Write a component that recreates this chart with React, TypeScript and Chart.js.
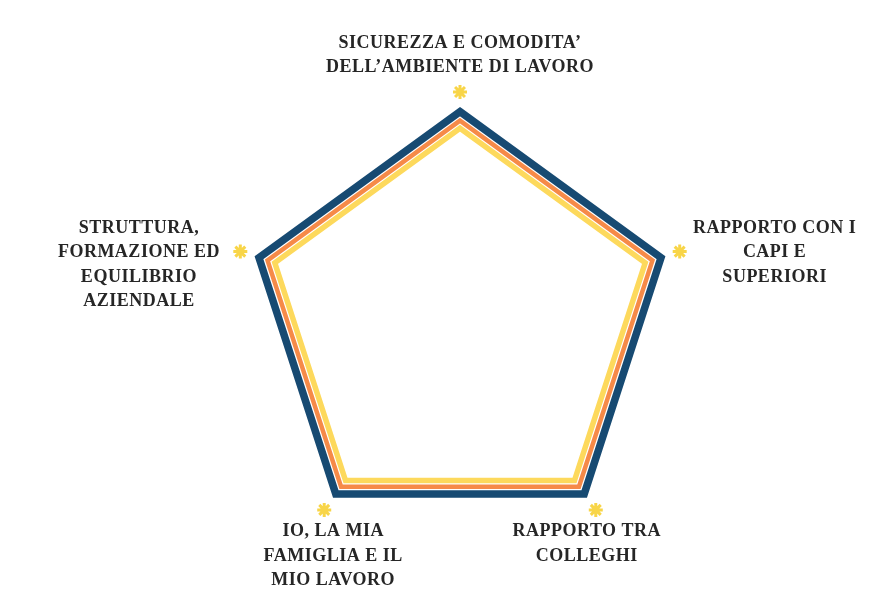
import { useEffect, useRef } from "react";
import { Chart, registerables } from "chart.js";
import type { Plugin } from "chart.js";

Chart.register(...registerables);

// Assi del radar (etichette su più righe)
const categories: string[][] = [
  ["SICUREZZA E COMODITA’", "DELL’AMBIENTE DI LAVORO"],
  ["RAPPORTO CON I", "CAPI E", "SUPERIORI"],
  ["RAPPORTO TRA", "COLLEGHI"],
  ["IO, LA MIA", "FAMIGLIA E IL", "MIO LAVORO"],
  ["STRUTTURA,", "FORMAZIONE ED", "EQUILIBRIO", "AZIENDALE"],
];

const blueValues = [9.15, 9.15, 9.15, 9.15, 9.15];
const orangeValues = [8.76, 8.76, 8.76, 8.76, 8.76];
const yellowValues = [8.43, 8.43, 8.43, 8.43, 8.43];
const starValues = [10, 10, 10, 10, 10];

const scaleMax = 10;

const LABEL_FONT = "bold 18px 'Liberation Serif', serif";
const LINE_HEIGHT = 24.5;

// disegna le etichette centrate riga per riga, attorno alle stelline
const labelPlugin: Plugin<"radar"> = {
  id: "centeredPointLabels",
  afterDraw(chart) {
    const scale: any = chart.scales.r;
    const ctx = chart.ctx;
    ctx.save();
    ctx.font = LABEL_FONT;
    (ctx as any).letterSpacing = "0.5px";
    ctx.fillStyle = "#262626";
    ctx.textAlign = "center";
    ctx.textBaseline = "middle";

    categories.forEach((lines, i) => {
      const pos = scale.getPointPosition(i, scale.drawingArea + 12);
      const cos = Math.cos(pos.angle);
      const sin = Math.sin(pos.angle);
      const blockW = Math.max(...lines.map((l) => ctx.measureText(l).width));
      const blockH = lines.length * LINE_HEIGHT;
      let cx = pos.x;
      let firstY: number;

      if (sin < -0.9) {
        // in alto
        firstY = pos.y - blockH + LINE_HEIGHT / 2;
      } else if (sin > 0.5) {
        // in basso
        cx = pos.x - Math.sign(cos) * 16;
        firstY = pos.y + LINE_HEIGHT / 2;
      } else {
        // ai lati
        cx = cos > 0 ? pos.x + 2 + blockW / 2 : pos.x - 9 - blockW / 2;
        firstY = pos.y - 20;
      }

      lines.forEach((line, k) => {
        ctx.fillText(line, cx, firstY + k * LINE_HEIGHT);
      });
    });
    ctx.restore();
  },
};

export default function App() {
  const canvasRef = useRef<HTMLCanvasElement>(null);
  const chartRef = useRef<Chart<"radar"> | null>(null);

  useEffect(() => {
    document.body.style.margin = "0";
    if (!canvasRef.current) return;
    chartRef.current?.destroy();

    const line = (data: number[], color: string, width: number) => ({
      data,
      borderColor: color,
      borderWidth: width,
      backgroundColor: "transparent",
      fill: false,
      pointRadius: 0,
      borderJoinStyle: "miter" as const,
      tension: 0,
    });

    chartRef.current = new Chart(canvasRef.current, {
      type: "radar",
      data: {
        labels: categories,
        datasets: [
          line(blueValues, "#174a72", 7.5),
          line(orangeValues, "#f68a48", 4.5),
          line(yellowValues, "#fdd95c", 5.5),
          {
            data: starValues,
            showLine: false,
            fill: false,
            backgroundColor: "transparent",
            borderColor: "transparent",
            pointStyle: "star",
            pointRadius: 7,
            pointBorderWidth: 3,
            pointBorderColor: "#f8d548",
            pointBackgroundColor: "#f8d548",
          },
        ],
      },
      options: {
        animation: false,
        responsive: false,
        events: [],
        layout: { padding: { left: 229, right: 201, top: 92, bottom: 51 } },
        plugins: {
          legend: { display: false },
          tooltip: { enabled: false },
        },
        scales: {
          r: {
            min: 0,
            max: scaleMax,
            ticks: { display: false },
            grid: { display: false },
            angleLines: { display: false },
            pointLabels: { display: false },
          },
        },
      },
      plugins: [labelPlugin],
    });

    return () => {
      chartRef.current?.destroy();
      chartRef.current = null;
    };
  }, []);

  return (
    <div style={{ width: 892, height: 605, background: "#ffffff" }}>
      <canvas ref={canvasRef} width={892} height={605} />
    </div>
  );
}
